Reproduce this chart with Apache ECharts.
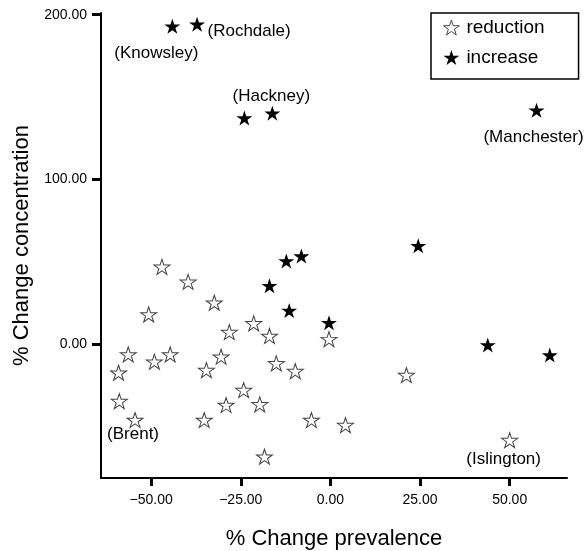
<!DOCTYPE html>
<html>
<head>
    <meta charset="utf-8">
    <style>
        html, body { height: 100%; }
        * { margin: 0; padding: 0; }
        #container { width: 585px; height: 551px; background: #fff; }
    </style>
</head>
<body>
<div id="container"></div>
<script type="text/javascript" src="https://cdn.jsdelivr.net/npm/echarts@6/dist/echarts.min.js"></script>
<script type="text/javascript">
    // reduction (hollow stars)
    let reductionX = [-47.0, -39.7, -32.4, -50.7, -28.2, -56.4, -49.1, -44.7, -30.5, -21.4, -17.0, -0.4, -15.1, -9.8,
        -59.1, -58.9, -54.5, -34.6, -35.2, -29.1, -24.2, -19.7, -5.3, 4.2, -18.4, 21.2, 50.0];
    let reductionY = [46.9, 37.8, 25.1, 18.0, 7.3, -6.3, -10.7, -6.3, -7.7, 12.6, 4.9, 3.0, -11.7, -16.4,
        -17.4, -34.6, -46.1, -15.8, -46.1, -37.0, -27.9, -36.6, -46.1, -49.2, -68.4, -18.8, -58.3];
    let reductionNames = ['', '', '', '', '', '', '', '', '', '', '', '', '', '',
        '', '', 'Brent', '', '', '', '', '', '', '', '', '', 'Islington'];

    // increase (filled stars)
    let increaseX = [-44.1, -37.2, -24.0, -16.2, 57.5, 24.5, -12.3, -8.1, -17.0, -11.5, -0.4, 43.9, 61.2];
    let increaseY = [193.0, 194.2, 137.2, 140.2, 142.0, 59.7, 50.4, 53.4, 35.4, 20.4, 12.9, -0.6, -6.7];
    let increaseNames = ['Knowsley', 'Rochdale', '', 'Hackney', 'Manchester', '', '', '', '', '', '', '', ''];

    let xTicks = [-50, -25, 0, 25, 50];
    let yTicks = [0, 100, 200];

    // where each borough label sits relative to its star
    let labelOffset = {
        Knowsley: [-16, 27],
        Rochdale: [52, 7],
        Hackney: [-1, -17],
        Manchester: [-3, 27],
        Brent: [-2, 14],
        Islington: [-6, 19]
    };

    function starPath() {
        let pts = [];
        for (let i = 0; i < 10; i++) {
            let r = i % 2 === 0 ? 50 : 19.1;
            let a = (-90 + i * 36) * Math.PI / 180;
            pts.push((50 + r * Math.cos(a)).toFixed(2) + ',' + (50 + r * Math.sin(a)).toFixed(2));
        }
        return 'path://M' + pts.join('L') + 'Z';
    }
    let star = starPath();
    let font = '"Liberation Sans", Arial, Helvetica, sans-serif';

    function buildData(xs, ys, names) {
        return xs.map(function (x, i) {
            let item = {value: [x, ys[i]]};
            let n = names[i];
            if (n) {
                item.label = {
                    show: true,
                    formatter: '(' + n + ')',
                    position: 'inside',
                    offset: labelOffset[n],
                    color: '#000',
                    fontSize: 17,
                    fontFamily: font
                };
            }
            return item;
        });
    }

    let dom = document.getElementById('container');
    let myChart = echarts.init(dom);
    let fmt = function (v) {
        return v.toFixed(2).replace('-', '\u2212');
    };

    let option = {
        animation: false,
        grid: {left: 101, top: 13, right: 18, bottom: 73, outerBoundsMode: 'none', containLabel: false},
        legend: {
            left: 431,
            top: 13,
            orient: 'vertical',
            padding: [5, 34, 12, 12],
            itemGap: 11,
            itemWidth: 20,
            itemHeight: 15,
            borderColor: '#000',
            borderWidth: 1.5,
            textStyle: {fontSize: 19, fontFamily: font, color: '#000'},
            data: [
                {name: 'reduction', icon: star, itemStyle: {color: '#fff', borderColor: '#444', borderWidth: 1}},
                {name: 'increase', icon: star, itemStyle: {color: '#000'}}
            ]
        },
        xAxis: {
            type: 'value',
            min: -64,
            max: 66,
            name: '% Change prevalence',
            nameLocation: 'middle',
            nameGap: 50,
            nameTextStyle: {fontSize: 22, fontFamily: font, color: '#000'},
            splitLine: {show: false},
            axisLine: {onZero: false, lineStyle: {color: '#000', width: 2}},
            axisTick: {customValues: xTicks, length: 8, lineStyle: {color: '#000', width: 3}},
            axisLabel: {customValues: xTicks, formatter: fmt, margin: 15, fontSize: 14, fontFamily: font, color: '#000'}
        },
        yAxis: {
            type: 'value',
            min: -81.3,
            max: 201,
            name: '% Change concentration',
            nameLocation: 'middle',
            nameGap: 68,
            nameTextStyle: {fontSize: 22, fontFamily: font, color: '#000'},
            splitLine: {show: false},
            axisLine: {onZero: false, lineStyle: {color: '#000', width: 2}},
            axisTick: {customValues: yTicks, length: 9, lineStyle: {color: '#000', width: 3}},
            axisLabel: {customValues: yTicks, formatter: fmt, margin: 14, fontSize: 14, fontFamily: font, color: '#000'}
        },
        series: [
            {
                name: 'reduction',
                type: 'scatter',
                symbol: star,
                symbolSize: [16, 15],
                itemStyle: {color: '#fff', borderColor: '#444', borderWidth: 1, opacity: 1},
                data: buildData(reductionX, reductionY, reductionNames)
            },
            {
                name: 'increase',
                type: 'scatter',
                symbol: star,
                symbolSize: [16, 15],
                itemStyle: {color: '#000', opacity: 1},
                data: buildData(increaseX, increaseY, increaseNames)
            }
        ]
    };
    myChart.setOption(option, true);
</script>
</body>
</html>
